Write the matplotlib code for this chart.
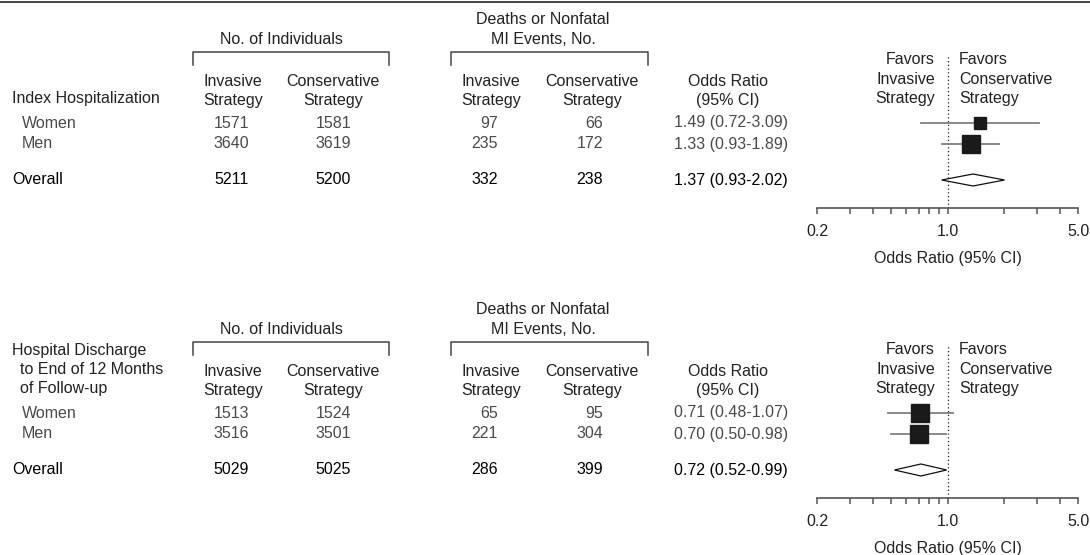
import matplotlib.pyplot as plt
from matplotlib.ticker import FixedLocator, NullFormatter

plt.rcParams['font.family'] = ['Liberation Sans', 'DejaVu Sans']

# subgroup rows
rows = ['Women', 'Men', 'Overall']

# index hospitalization
idx_n_invasive = [1571, 3640, 5211]
idx_n_conservative = [1581, 3619, 5200]
idx_ev_invasive = [97, 235, 332]
idx_ev_conservative = [66, 172, 238]
idx_or = [1.49, 1.33, 1.37]
idx_lo = [0.72, 0.93, 0.93]
idx_hi = [3.09, 1.89, 2.02]

# discharge to 12 months
dis_n_invasive = [1513, 3516, 5029]
dis_n_conservative = [1524, 3501, 5025]
dis_ev_invasive = [65, 221, 286]
dis_ev_conservative = [95, 304, 399]
dis_or = [0.71, 0.70, 0.72]
dis_lo = [0.48, 0.50, 0.52]
dis_hi = [1.07, 0.98, 0.99]

W, H = 1090, 555
FS = 11.5
SUB = '#4a4a4a'
HEAD = '#222222'

fig = plt.figure(figsize=(W / 100, H / 100), dpi=100)
bg = fig.add_axes([0, 0, 1, 1])
bg.set_xlim(0, W)
bg.set_ylim(H, 0)
bg.axis('off')

# rule along the top
bg.plot([0, W], [2, 2], color='#444444', lw=1.4)


def txt(x, y, s, ha='center', color=HEAD):
    bg.text(x, y, s, ha=ha, va='center', fontsize=FS, color=color)


def bracket(x0, x1, y0, y1):
    bg.plot([x0, x0, x1, x1], [y1, y0, y0, y1], color='#444444', lw=1.1)


def panel(off, title_lines, n_inv, n_con, ev_inv, ev_con, est, lo, hi, sq):
    # column headers
    txt(543, 20 + off, 'Deaths or Nonfatal')
    txt(543, 40 + off, 'MI Events, No.')
    txt(281, 40 + off, 'No. of Individuals')
    bracket(193, 389, 52 + off, 65 + off)
    bracket(451, 648, 52 + off, 65 + off)
    for xc in (233, 491):
        txt(xc, 82 + off, 'Invasive')
        txt(xc, 100 + off, 'Strategy')
    for xc in (333, 592):
        txt(xc, 82 + off, 'Conservative')
        txt(xc, 100 + off, 'Strategy')
    txt(728, 82 + off, 'Odds Ratio')
    txt(728, 100 + off, '(95% CI)')
    for (x, y, s) in title_lines:
        txt(x, y + off, s, ha='left')
    txt(935, 60 + off, 'Favors', ha='right')
    txt(935, 80 + off, 'Invasive', ha='right')
    txt(935, 99 + off, 'Strategy', ha='right')
    txt(959, 60 + off, 'Favors', ha='left')
    txt(959, 80 + off, 'Conservative', ha='left')
    txt(959, 99 + off, 'Strategy', ha='left')

    row_y = [123 + off, 144 + off, 180 + off]
    for i, name in enumerate(rows):
        c = SUB if i < 2 else '#000000'
        x = 22 if i < 2 else 12
        y = row_y[i]
        txt(x, y, name, ha='left', color=c)
        txt(249, y, str(n_inv[i]), ha='right', color=c)
        txt(351, y, str(n_con[i]), ha='right', color=c)
        txt(498, y, str(ev_inv[i]), ha='right', color=c)
        txt(603, y, str(ev_con[i]), ha='right', color=c)
        txt(731, y, f'{est[i]:.2f} ({lo[i]:.2f}-{hi[i]:.2f})', color=c)

    # forest plot
    top, axis_y = 55 + off, 208 + off
    ax = fig.add_axes([817 / W, 1 - axis_y / H, 261 / W, (axis_y - top) / H])
    ax.patch.set_alpha(0)
    ax.set_xscale('log')
    ax.set_xlim(0.2, 5.0)
    ax.set_ylim(axis_y, top)
    for s in ('top', 'left', 'right'):
        ax.spines[s].set_visible(False)
    ax.spines['bottom'].set_color('#555555')
    ax.spines['bottom'].set_linewidth(1.2)
    ax.yaxis.set_visible(False)
    ax.xaxis.set_major_locator(FixedLocator([0.2, 1.0, 5.0]))
    ax.xaxis.set_minor_locator(FixedLocator([0.3, 0.4, 0.5, 0.6, 0.7, 0.8, 0.9, 2, 3, 4]))
    ax.xaxis.set_minor_formatter(NullFormatter())
    ax.set_xticklabels(['0.2', '1.0', '5.0'])
    ax.tick_params(axis='x', which='both', direction='out', length=4,
                   width=1.1, color='#555555', labelsize=FS,
                   labelcolor=HEAD, pad=7.5)
    ax.set_xlabel('Odds Ratio (95% CI)', fontsize=FS, color=HEAD, labelpad=9)
    ax.axvline(1.0, color='#222222', lw=0.9, ls=(0, (1, 2)))

    for i in range(2):
        y = row_y[i]
        ax.plot([lo[i], hi[i]], [y, y], color='#808080', lw=1.3, zorder=2)
        ax.plot(est[i], y, marker='s', ms=sq[i], color='#1a1a1a', zorder=3)
    y = row_y[2]
    ax.fill([lo[2], est[2], hi[2], est[2]], [y, y - 6, y, y + 6],
            facecolor='white', edgecolor='#111111', lw=0.9, zorder=3)
    return ax


panel(0, [(12, 98, 'Index Hospitalization')],
      idx_n_invasive, idx_n_conservative, idx_ev_invasive, idx_ev_conservative,
      idx_or, idx_lo, idx_hi, sq=[9.2, 13.0])

panel(290, [(12, 60, 'Hospital Discharge'), (20, 80, 'to End of 12 Months'),
            (20, 99, 'of Follow-up')],
      dis_n_invasive, dis_n_conservative, dis_ev_invasive, dis_ev_conservative,
      dis_or, dis_lo, dis_hi, sq=[13.0, 13.4])

fig.savefig('out.png', dpi=100)
